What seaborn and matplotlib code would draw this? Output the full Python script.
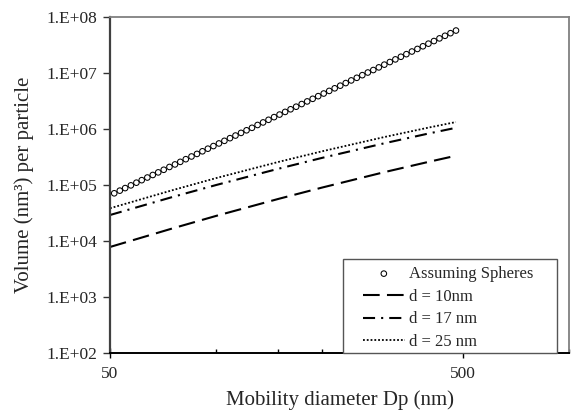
import matplotlib
matplotlib.use("Agg")
import matplotlib.pyplot as plt
import seaborn as sns
import numpy as np
import pandas as pd
from matplotlib.ticker import FixedLocator, NullFormatter
from matplotlib.patches import Rectangle

# ---- data ----
sphere_dp = [51.4, 53.3, 55.2, 57.3, 59.4, 61.5, 63.8, 66.1, 68.5, 71.0, 73.7, 76.4,
             79.1, 82.0, 85.1, 88.2, 91.4, 94.7, 98.2, 101.8, 105.5, 109.4, 113.4,
             117.6, 121.9, 126.3, 131.0, 135.8, 140.7, 145.9, 151.2, 156.8, 162.5,
             168.5, 174.7, 181.1, 187.7, 194.6, 201.7, 209.1, 216.7, 224.7, 232.9,
             241.4, 250.3, 259.5, 269.0, 278.8, 289.0, 299.6, 310.6, 322.0, 333.8,
             346.0, 358.7, 371.8, 385.4, 399.5, 414.2, 429.4, 445.1, 461.4, 478.3]
sphere_vol = [7.11e4, 7.93e4, 8.81e4, 9.85e4, 1.10e5, 1.22e5, 1.36e5, 1.51e5, 1.68e5,
              1.87e5, 2.10e5, 2.33e5, 2.59e5, 2.89e5, 3.23e5, 3.59e5, 4.00e5, 4.45e5,
              4.96e5, 5.52e5, 6.15e5, 6.86e5, 7.64e5, 8.52e5, 9.48e5, 1.05e6, 1.18e6,
              1.31e6, 1.46e6, 1.63e6, 1.81e6, 2.02e6, 2.25e6, 2.50e6, 2.79e6, 3.11e6,
              3.46e6, 3.86e6, 4.30e6, 4.79e6, 5.33e6, 5.94e6, 6.61e6, 7.37e6, 8.21e6,
              9.15e6, 1.02e7, 1.13e7, 1.26e7, 1.41e7, 1.57e7, 1.75e7, 1.95e7, 2.17e7,
              2.42e7, 2.69e7, 3.00e7, 3.34e7, 3.72e7, 4.15e7, 4.62e7, 5.14e7, 5.73e7]

line_dp = [50, 75, 100, 150, 200, 300, 400, 478]
vol_d10 = [7.82e3, 1.67e4, 2.81e4, 5.64e4, 9.03e4, 1.70e5, 2.59e5, 3.33e5]
vol_d17 = [2.91e4, 6.08e4, 1.00e5, 1.95e5, 3.06e5, 5.57e5, 8.31e5, 1.05e6]
vol_d25 = [3.84e4, 8.05e4, 1.33e5, 2.58e5, 4.01e5, 7.20e5, 1.06e6, 1.33e6]

series_labels = ["Assuming Spheres", "d = 10nm", "d = 17 nm", "d = 25 nm"]

x_major = [50, 500]
x_major_labels = ["50", "500"]
x_minor = [100, 150, 200, 250, 300, 350, 400, 450, 1000]
y_ticks = [1e2, 1e3, 1e4, 1e5, 1e6, 1e7, 1e8]
y_tick_labels = ["1.E+02", "1.E+03", "1.E+04", "1.E+05", "1.E+06", "1.E+07", "1.E+08"]

# ---- style ----
sns.set_style("white")
plt.rcParams["font.family"] = ["Liberation Serif", "DejaVu Serif"]

fig = plt.figure(figsize=(5.71, 4.16), dpi=100)
ax_l, ax_r, ax_t, ax_b = 110, 569, 17, 353
ax = fig.add_axes([ax_l/571, 1-ax_b/416, (ax_r-ax_l)/571, (ax_b-ax_t)/416])
W = ax_r - ax_l
H = ax_b - ax_t

sns.scatterplot(x=sphere_dp, y=sphere_vol, ax=ax, marker="o", s=16,
                facecolors="none", edgecolor="black", linewidth=0.75,
                label=series_labels[0], zorder=3)
sns.lineplot(x=line_dp, y=vol_d10, ax=ax, color="black", linewidth=1.5,
             linestyle=(0, (8, 3.5)), label=series_labels[1])
sns.lineplot(x=line_dp, y=vol_d17, ax=ax, color="black", linewidth=1.5,
             linestyle=(0, (5.8, 2.9, 1, 2.9)), label=series_labels[2])
sns.lineplot(x=line_dp, y=vol_d25, ax=ax, color="black", linewidth=1.3,
             linestyle=(0, (1, 1.1)), label=series_labels[3])

ax.set_xscale("log")
ax.set_yscale("log")
ax.set_xlim(50, 1000)
ax.set_ylim(1e2, 1e8)

ax.xaxis.set_major_locator(FixedLocator(x_major))
ax.set_xticklabels(x_major_labels)
ax.xaxis.set_minor_locator(FixedLocator(x_minor))
ax.xaxis.set_minor_formatter(NullFormatter())
ax.yaxis.set_major_locator(FixedLocator(y_ticks))
ax.set_yticklabels(y_tick_labels)
ax.yaxis.set_minor_locator(FixedLocator([]))

ax.tick_params(axis="x", which="major", direction="inout", length=7, width=1,
               labelsize=12.5, pad=6, bottom=True, color="black")
ax.tick_params(axis="x", which="minor", direction="in", length=3, width=1,
               bottom=True, color="black")
ax.tick_params(axis="y", which="major", direction="out", length=5, width=1,
               labelsize=12.5, pad=4, left=True, color="#333333")

for side, col, lw in [("left", "#404040", 1.6), ("bottom", "black", 1.4),
                      ("top", "#808080", 1.3), ("right", "#808080", 1.3)]:
    ax.spines[side].set_visible(True)
    ax.spines[side].set_color(col)
    ax.spines[side].set_linewidth(lw)

ax.set_xlabel("Mobility diameter Dp (nm)", fontsize=15, labelpad=6)
ax.set_ylabel("Volume (nm³) per particle", fontsize=15, labelpad=9)

# legend box (frame drawn as a rectangle)
bx0, bx1, by0, by1 = 343, 557, 259, 353
ax.add_patch(Rectangle(((bx0-ax_l)/W, (ax_b-by1)/H), (bx1-bx0)/W, (by1-by0)/H,
                       transform=ax.transAxes, facecolor="white",
                       edgecolor="#555555", linewidth=1.0, zorder=4,
                       clip_on=False))
leg = ax.legend(loc="upper left",
                bbox_to_anchor=((363-ax_l)/W, (ax_b-266)/H),
                borderaxespad=0, borderpad=0, fontsize=12, frameon=False,
                handlelength=2.5, handletextpad=0.25, labelspacing=0.4,
                scatterpoints=1)
leg.set_zorder(5)

fig.savefig("out.png", dpi=100)
